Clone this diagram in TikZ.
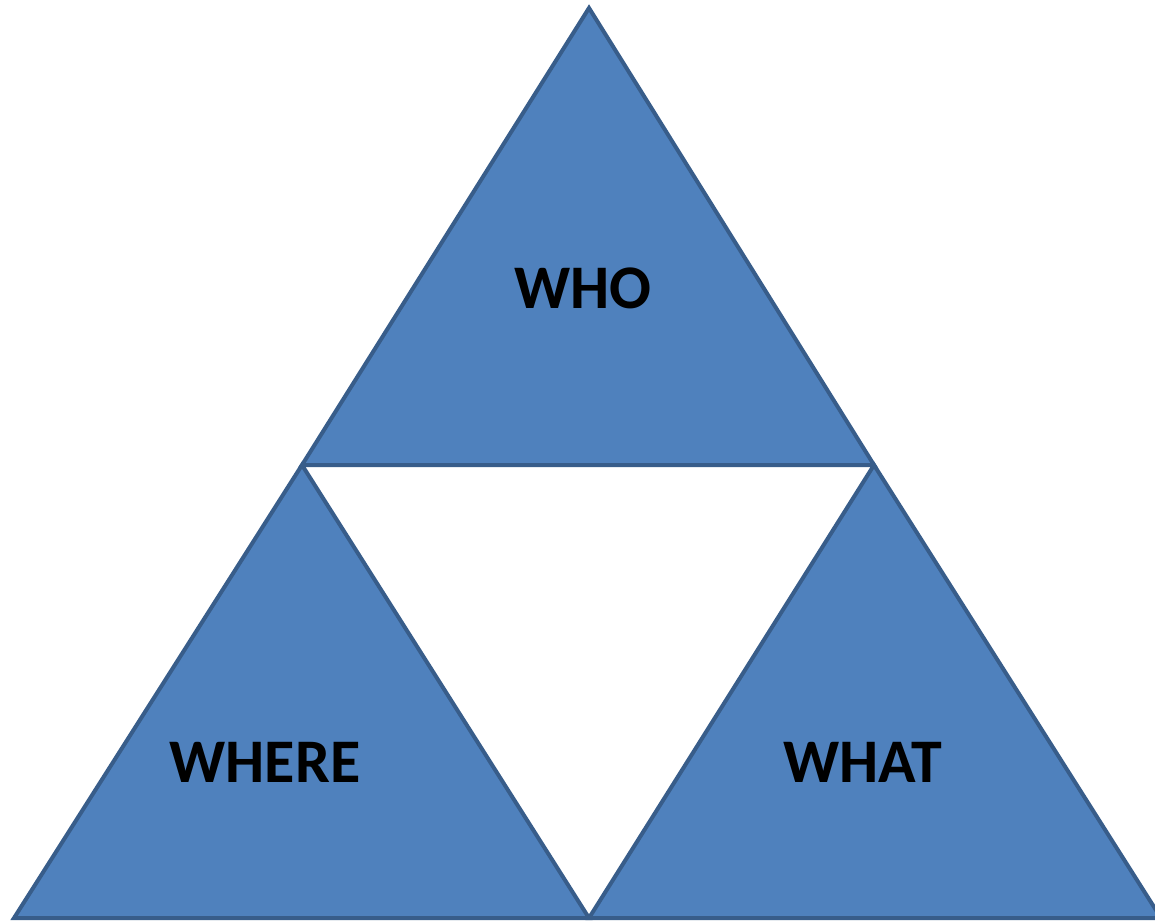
\documentclass[tikz,border=0pt]{standalone}
\usepackage{fontspec}
\setmainfont{Carlito}
\usepackage{tikz}
\definecolor{triblue}{HTML}{4F81BD}
\definecolor{triedge}{HTML}{385D8A}

\begin{document}
\begin{tikzpicture}[x=1pt, y=-1pt,
  tri/.style={fill=triblue, draw=triedge, line width=4pt, line join=miter},
  lbl/.style={font=\fontsize{62}{74}\selectfont\bfseries, text=black, inner sep=0pt}]
\useasboundingbox (0,0) rectangle (1155,922);
% corners of the three triangles
\coordinate (apex) at (589,8);
\coordinate (midl) at (302,465);
\coordinate (midr) at (874,465);
\coordinate (botl) at (14,918);
\coordinate (botm) at (589,918);
\coordinate (botr) at (1161,918);
\draw[tri] (apex) -- (midl) -- (midr) -- cycle;
\draw[tri] (midl) -- (botl) -- (botm) -- cycle;
\draw[tri] (midr) -- (botm) -- (botr) -- cycle;
\node[lbl] (who) at (583,288) {WHO};
\node[lbl] (where) at (265,762) {WHERE};
\node[lbl] (what) at (863,762) {WHAT};
\end{tikzpicture}
\end{document}
